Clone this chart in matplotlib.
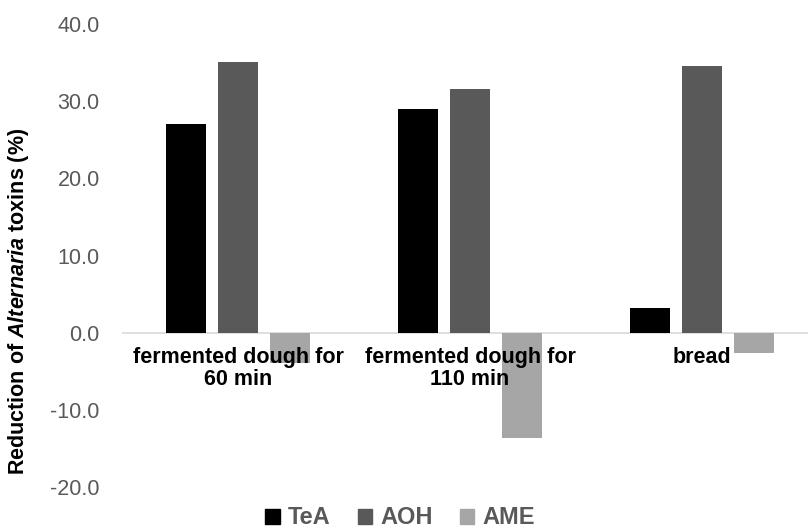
import numpy as np
import matplotlib
matplotlib.use("Agg")
import matplotlib.pyplot as plt
from matplotlib.patches import Patch

plt.rcParams['font.family'] = ['Liberation Sans', 'DejaVu Sans']
plt.rcParams['mathtext.fontset'] = 'custom'
plt.rcParams['mathtext.rm'] = 'Liberation Sans:bold'
plt.rcParams['mathtext.bf'] = 'Liberation Sans:bold'
plt.rcParams['mathtext.it'] = 'Liberation Sans:bold:italic'

# data
categories = ['fermented dough for\n60 min', 'fermented dough for\n110 min', 'bread']
series = ['TeA', 'AOH', 'AME']
TeA = [27.1, 29.0, 3.2]
AOH = [35.1, 31.6, 34.5]
AME = [-3.9, -13.7, -2.6]
yticks = [-20, -10, 0, 10, 20, 30, 40]

colors = ['#000000', '#595959', '#a6a6a6']
values = [TeA, AOH, AME]

W, H = 808, 528
fig = plt.figure(figsize=(W / 100, H / 100), dpi=100)
# axes extends slightly past the right edge like the reference
ax = fig.add_axes([122 / W, 1 - 487 / H, (818 - 122) / W, (487 - 24) / H])

x = np.arange(len(categories))
width = 0.172
step = 0.224
for i, (vals, c) in enumerate(zip(values, colors)):
    ax.bar(x + (i - 1) * step, vals, width, color=c, zorder=2, label=series[i])

ax.set_xlim(-0.5, 2.5)
ax.set_ylim(-20, 40)
ax.set_yticks(yticks)
ax.set_yticklabels([f'{v:.1f}' for v in yticks], color='#595959', fontsize=15.5)
ax.tick_params(axis='y', length=0, pad=16)
ax.set_xticks([])
for s in ax.spines.values():
    s.set_visible(False)
ax.axhline(0, color='#d9d9d9', lw=1.2, zorder=1)

# category labels sit just under the zero line, over the bars
for xi, lab in zip(x, categories):
    ax.text(xi, -1.8, lab, ha='center', va='top', fontsize=15.5,
            fontweight='bold', color='#000000', zorder=5, linespacing=1.1)

fig.text(19 / W, 1 - 301 / H, r'Reduction of $\mathit{Alternaria}$ toxins (%)',
         rotation=90, ha='center', va='center', fontsize=15.5, fontweight='bold')

handles = [Patch(color=c) for c in colors]
leg = fig.legend(handles, series, loc='center', bbox_to_anchor=(400 / W, 1 - 518 / H),
                 ncol=3, frameon=False, handlelength=0.6, handleheight=0.6,
                 handletextpad=0.35, columnspacing=1.15,
                 prop={'weight': 'bold', 'size': 17})
for t in leg.get_texts():
    t.set_color('#595959')

fig.savefig('out.png', dpi=100)
